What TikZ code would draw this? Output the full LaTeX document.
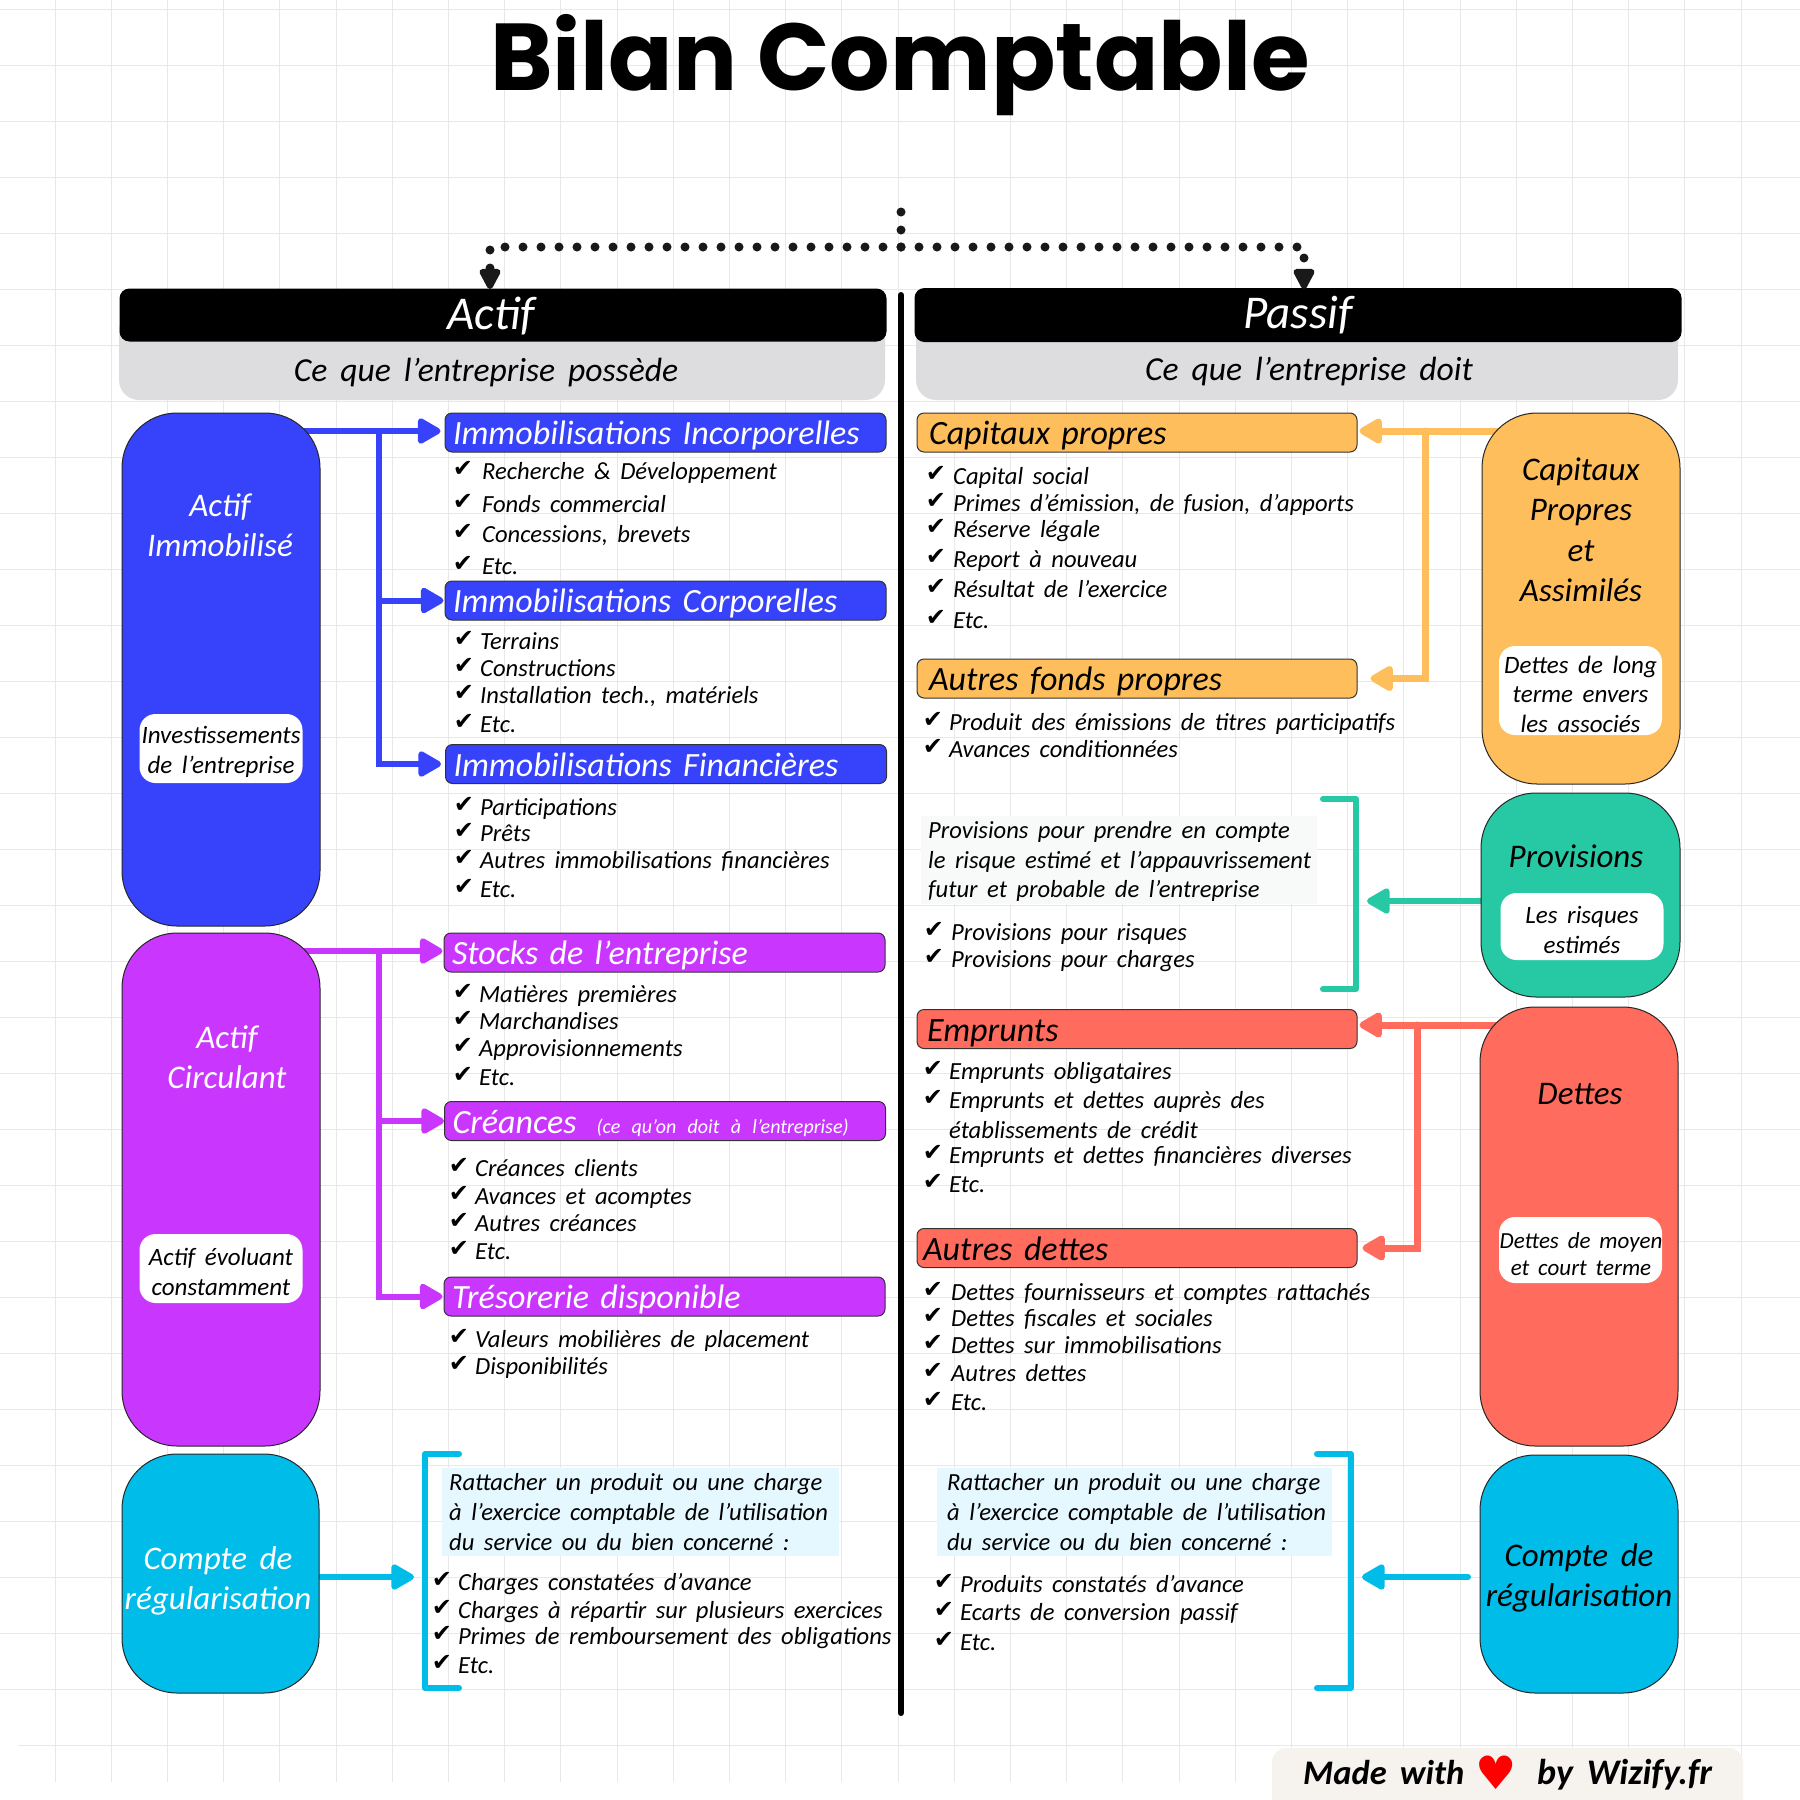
\documentclass[tikz,border=0pt]{standalone}
\usepackage{fontspec}
\setmainfont{Carlito}[WordSpace=1.7]
\newfontfamily\titlefont{Poppins}
\newfontfamily\symbfont{DejaVu Sans}
\usetikzlibrary{arrows.meta,backgrounds}
\definecolor{immoclr}{HTML}{3742FB}
\definecolor{circclr}{HTML}{C937FF}
\definecolor{regulclr}{HTML}{00BCE8}
\definecolor{capclr}{HTML}{FFBE5C}
\definecolor{provclr}{HTML}{26C9A4}
\definecolor{detteclr}{HTML}{FF6B5C}
\definecolor{greyclr}{HTML}{DDDDE0}
\definecolor{gridclr}{HTML}{E8E8E8}
\definecolor{footclr}{HTML}{F6F3EF}
\definecolor{paraclr}{HTML}{E6F8FF}
\definecolor{provparaclr}{HTML}{F8F9F9}

\begin{document}
\begin{tikzpicture}[
  x=1pt, y=-1pt,
  font=\itshape,
  headbox/.style={rectangle, rounded corners=10pt, fill=black, minimum width=767pt, minimum height=53pt, inner sep=0pt},
  subbox/.style={rectangle, rounded corners=20pt, fill=greyclr, minimum width=766pt, minimum height=90pt, inner sep=0pt},
  bigbox/.style={rectangle, rounded corners=55pt, draw=black!85, line width=1pt, inner sep=0pt},
  barbox/.style={rectangle, rounded corners=7pt, draw=black!80, line width=1pt, minimum height=39pt, inner ysep=0pt,
    text height=28pt, text depth=4pt, text width=425pt, inner xsep=8pt, align=left, font=\itshape\fontsize{34}{34}\selectfont},
  pill/.style={rectangle, rounded corners=16pt, fill=white, minimum width=163pt, inner sep=0pt},
  boxtxt/.style={align=center, inner sep=0pt, font=\itshape\fontsize{33}{40.5}\selectfont},
  pilltxt/.style={align=center, inner sep=0pt, font=\itshape\fontsize{25}{29.5}\selectfont},
  itemtxt/.style={anchor=base west, inner sep=0pt, yshift=-8pt, font=\itshape\fontsize{24.6}{24.6}\selectfont},
  chk/.style={inner sep=0pt, yshift=2pt, font=\symbfont\fontsize{24}{24}\selectfont},
  arrow/.style={-{Triangle[length=26pt,width=28pt,round]}, line width=6pt, line cap=round},
  bracket/.style={line width=6pt, line cap=round, line join=round},
  dotline/.style={-{Triangle[length=24pt,width=23pt,round]}, line width=9pt, dash pattern=on 0pt off 18pt, line cap=round, draw=black!90},
]
\useasboundingbox (0,0) rectangle (1800,1800);

% Title
\node[inner sep=0pt, font=\titlefont\bfseries\fontsize{95}{95}\selectfont] (title) at (900,65) {Bilan Comptable};

% Column headers
\node[subbox] (actifsub) at (502,355) {};
\node[subbox, minimum width=762pt] (passifsub) at (1297,355) {};
\node[headbox] (actifhead) at (503,315) {};
\node[headbox, minimum height=54pt] (passifhead) at (1298,315) {};
\node[inner sep=0pt, text=white, font=\itshape\fontsize{47}{47}\selectfont] (actiftxt) at (491,316) {Actif};
\node[inner sep=0pt, text=white, font=\itshape\fontsize{47}{47}\selectfont] (passiftxt) at (1298,315) {Passif};
\node[inner sep=0pt, font=\itshape\fontsize{33.6}{33.6}\selectfont] (actifsubtxt) at (486,373) {Ce que l'entreprise possède};
\node[inner sep=0pt, font=\itshape\fontsize{33.6}{33.6}\selectfont] (passifsubtxt) at (1309,372) {Ce que l'entreprise doit};

% Big boxes, left
\node[bigbox, fill=immoclr, minimum width=198pt, minimum height=513pt] (immobox) at (221,669.5) {};
\node[bigbox, fill=circclr, minimum width=198pt, minimum height=513pt] (circbox) at (221,1189.5) {};
\node[bigbox, fill=regulclr, minimum width=197pt, minimum height=239pt] (regullbox) at (220.5,1573.5) {};
% Big boxes, right
\node[bigbox, fill=capclr, minimum width=198pt, minimum height=371pt] (capbox) at (1581,598.5) {};
\node[bigbox, fill=provclr, minimum width=199pt, minimum height=204pt] (provbox) at (1580.5,895) {};
\node[bigbox, fill=detteclr, minimum width=198pt, minimum height=439pt] (dettebox) at (1579,1226.5) {};
\node[bigbox, fill=regulclr, minimum width=198pt, minimum height=238pt] (regulrbox) at (1579,1574) {};

% Big box labels
\node[boxtxt, text=white] (immotxt) at (220,525) {Actif\\Immobilisé};
\node[boxtxt, text=white] (circtxt) at (227,1057) {Actif\\Circulant};
\node[boxtxt, text=white] (regulltxt) at (218,1581) {Compte de\\régularisation};
\node[boxtxt] (captxt) at (1581,530) {Capitaux\\Propres\\et\\Assimilés};
\node[boxtxt] (provtxt) at (1576,856) {Provisions};
\node[boxtxt] (dettetxt) at (1580,1094) {Dettes};
\node[boxtxt] (regulrtxt) at (1579,1578) {Compte de\\régularisation};

% White pills
\node[pill, minimum height=69pt] (immopill) at (221,748.5) {};
\node[pill, minimum height=69pt] (circpill) at (221,1268.5) {};
\node[pill, minimum height=89pt] (cappill) at (1580.5,690.5) {};
\node[pill, minimum height=67pt] (provpill) at (1582,926.5) {};
\node[pill, minimum height=66pt] (dettepill) at (1580.5,1250) {};
\node[pilltxt] (immopilltxt) at (221,752) {Investissements\\de l'entreprise};
\node[pilltxt] (circpilltxt) at (221,1272) {Actif évoluant\\constamment};
\node[pilltxt] (cappilltxt) at (1580.5,694) {Dettes de long\\terme envers\\les associés};
\node[pilltxt] (provpilltxt) at (1582,930) {Les risques\\estimés};
\node[pilltxt, font=\itshape\fontsize{23}{27.5}\selectfont] (dettepilltxt) at (1581,1254) {Dettes de moyen\\et court terme};

% Bars, left
\node[barbox, fill=immoclr, text=white] (immoinc) at (665.5,432.5) {Immobilisations Incorporelles};
\node[barbox, fill=immoclr, text=white] (immocorp) at (665.5,600.5) {Immobilisations Corporelles};
\node[barbox, fill=immoclr, text=white] (immofin) at (666,764) {Immobilisations Financières};
\node[barbox, fill=circclr, text=white] (circstock) at (664.5,952.5) {Stocks de l'entreprise};
\node[barbox, fill=circclr, text=white] (circcre) at (665,1121) {Créances\hspace{20pt}{\fontsize{20}{20}\selectfont(ce qu'on doit à l'entreprise)}};
\node[barbox, fill=circclr, text=white] (circtres) at (664.5,1296.5) {Trésorerie disponible};
% Bars, right
\node[barbox, fill=capclr, inner xsep=12pt, text width=416pt] (capbar) at (1137,432.5) {Capitaux propres};
\node[barbox, fill=capclr, inner xsep=12pt, text width=416pt] (autbar) at (1137,678.5) {Autres fonds propres};
\node[barbox, fill=detteclr, inner xsep=10pt, text width=420pt] (empbar) at (1137,1029) {Emprunts};
\node[barbox, fill=detteclr, inner xsep=6pt, text width=428pt] (adbar) at (1137,1248) {Autres dettes};

% Highlighted paragraphs
\node[rectangle, fill=provparaclr, minimum width=396pt, minimum height=88pt, inner sep=0pt] (provpara) at (1119,860) {};
\node[rectangle, fill=paraclr, minimum width=397pt, minimum height=88pt, inner sep=0pt] (regullpara) at (640.5,1512) {};
\node[rectangle, fill=paraclr, minimum width=395pt, minimum height=88pt, inner sep=0pt] (regulrpara) at (1134.5,1512) {};
\foreach \y/\txt [count=\i] in {830/Provisions pour prendre en compte, 860/le risque estimé et l'appauvrissement, 889/futur et probable de l'entreprise}
  \node[itemtxt] (provp\i) at (928,\y) {\txt};
\foreach \y/\txt [count=\i] in {1482/Rattacher un produit ou une charge, 1512/à l'exercice comptable de l'utilisation, 1542/du service ou du bien concerné :} {
  \node[itemtxt] (regullp\i) at (449,\y) {\txt};
  \node[itemtxt] (regulrp\i) at (947,\y) {\txt};
}

% Lists, left
\foreach \y/\txt [count=\i] in {471/Recherche \& Développement, 504/Fonds commercial, 534/{Concessions, brevets}, 566/Etc.} {
  \node[chk] (incc\i) at (463,\y) {✔};
  \node[itemtxt] (inct\i) at (482,\y) {\txt};
}
\foreach \y/\txt [count=\i] in {641/Terrains, 668/Constructions, 695/{Installation tech., matériels}, 724/Etc.} {
  \node[chk] (corc\i) at (464,\y) {✔};
  \node[itemtxt] (cort\i) at (480,\y) {\txt};
}
\foreach \y/\txt [count=\i] in {807/Participations, 833/Prêts, 860/Autres immobilisations financières, 889/Etc.} {
  \node[chk] (finc\i) at (464,\y) {✔};
  \node[itemtxt] (fint\i) at (480,\y) {\txt};
}
\foreach \y/\txt [count=\i] in {994/Matières premières, 1021/Marchandises, 1048/Approvisionnements, 1077/Etc.} {
  \node[chk] (stoc\i) at (463,\y) {✔};
  \node[itemtxt] (stot\i) at (479,\y) {\txt};
}
\foreach \y/\txt [count=\i] in {1168/Créances clients, 1196/Avances et acomptes, 1223/Autres créances, 1251/Etc.} {
  \node[chk] (crec\i) at (459,\y) {✔};
  \node[itemtxt] (cret\i) at (475,\y) {\txt};
}
\foreach \y/\txt [count=\i] in {1339/Valeurs mobilières de placement, 1366/Disponibilités} {
  \node[chk] (trec\i) at (459,\y) {✔};
  \node[itemtxt] (tret\i) at (475,\y) {\txt};
}
\foreach \y/\txt [count=\i] in {1582/Charges constatées d'avance, 1610/Charges à répartir sur plusieurs exercices, 1636/Primes de remboursement des obligations, 1665/Etc.} {
  \node[chk] (rglc\i) at (442,\y) {✔};
  \node[itemtxt] (rglt\i) at (458,\y) {\txt};
}

% Lists, right
\foreach \y/\txt [count=\i] in {476/Capital social, 503/{Primes d'émission, de fusion, d'apports}, 529/Réserve légale, 559/Report à nouveau, 589/Résultat de l'exercice, 620/Etc.} {
  \node[chk] (capc\i) at (936,\y) {✔};
  \node[itemtxt] (capt\i) at (953,\y) {\txt};
}
\foreach \y/\txt [count=\i] in {722/Produit des émissions de titres participatifs, 749/Avances conditionnées} {
  \node[chk] (autc\i) at (933,\y) {✔};
  \node[itemtxt] (autt\i) at (949,\y) {\txt};
}
\foreach \y/\txt [count=\i] in {932/Provisions pour risques, 959/Provisions pour charges} {
  \node[chk] (proc\i) at (934,\y) {✔};
  \node[itemtxt] (prot\i) at (951,\y) {\txt};
}
\foreach \y/\txt [count=\i] in {1071/Emprunts obligataires, 1100/Emprunts et dettes auprès des, 1155/Emprunts et dettes financières diverses, 1184/Etc.} {
  \node[chk] (empc\i) at (933,\y) {✔};
  \node[itemtxt] (empt\i) at (949,\y) {\txt};
}
\node[itemtxt] (empt5) at (949,1130) {établissements de crédit};
\foreach \y/\txt [count=\i] in {1292/Dettes fournisseurs et comptes rattachés, 1318/Dettes fiscales et sociales, 1345/Dettes sur immobilisations, 1373/Autres dettes, 1402/Etc.} {
  \node[chk] (addc\i) at (933,\y) {✔};
  \node[itemtxt] (addt\i) at (951,\y) {\txt};
}
\foreach \y/\txt [count=\i] in {1584/Produits constatés d'avance, 1612/Ecarts de conversion passif, 1642/Etc.} {
  \node[chk] (rgrc\i) at (944,\y) {✔};
  \node[itemtxt] (rgrt\i) at (960,\y) {\txt};
}

% Footer
\node[rectangle, rounded corners=14pt, fill=footclr, minimum width=471pt, minimum height=80pt, inner sep=0pt] (footbox) at (1507.5,1788) {};
\node[inner sep=0pt, anchor=base west, font=\itshape\bfseries\fontsize{34.5}{34.5}\selectfont] (madetxt) at (1303,1784) {Made with};
\node[inner sep=0pt, text=red, font=\symbfont\fontsize{46}{46}\selectfont] (heart) at (1496,1773) {♥};
\node[inner sep=0pt, anchor=base west, font=\itshape\bfseries\fontsize{36}{36}\selectfont] (wiztxt) at (1537,1784) {by Wizify.fr};

% Free ends
\coordinate (dottop) at (901,212);
\coordinate (dotknee) at (901,247);
\coordinate (actiftip) at (490,289);
\coordinate (passiftip) at (1304,289);
\coordinate (midtop) at (901,295);
\coordinate (midbot) at (901,1713);
\coordinate (immotrunk) at (379,431);
\coordinate (circtrunk) at (379,951);
\coordinate (captrunk) at (1425,431);
\coordinate (dettetrunk) at (1417,1025);
\coordinate (provtip) at (1367,901);
\coordinate (regulltip) at (414,1577);
\coordinate (regulrtip) at (1362,1577);
\coordinate (regullout) at (321,1577);
\coordinate (regulrout) at (1468,1577);

\begin{scope}[on background layer]
  % Page and grid
  \fill[white] (0,0) rectangle (1800,1800);
  \foreach \k in {0,...,30}
    \draw[gridclr, line width=1pt] ({55+56.2*\k},0) -- ({55+56.2*\k},1782);
  \foreach \k in {0,...,30}
    \draw[gridclr, line width=1pt] (0,{9+56*\k}) -- (1800,{9+56*\k});
  \draw[gridclr, line width=1pt] (18,1745) -- (1800,1745);

  % Blue arrows
  \draw[arrow, immoclr, shorten >=4pt] (immobox.center |- immotrunk) -- (immoinc.west |- immotrunk);
  \draw[arrow, immoclr, shorten >=1pt] (immotrunk) |- (immocorp.west);
  \draw[arrow, immoclr, shorten >=4pt] (immotrunk) |- (immofin.west);
  % Purple arrows
  \draw[arrow, circclr, shorten >=1pt] (circbox.center |- circtrunk) -- (circstock.west |- circtrunk);
  \draw[arrow, circclr, shorten >=0pt] (circtrunk) |- (circcre.west);
  \draw[arrow, circclr, shorten >=1pt] (circtrunk) |- (circtres.west);
  % Orange arrows
  \draw[arrow, capclr, line width=7pt, shorten >=2pt] (capbox.center |- captrunk) -- (capbar.east |- captrunk);
  \draw[arrow, capclr, line width=7pt, shorten >=13pt] (captrunk) |- (autbar.east);
  % Red arrows
  \draw[arrow, detteclr, line width=7pt, shorten >=2pt] (dettebox.center |- dettetrunk) -- (empbar.east |- dettetrunk);
  \draw[arrow, detteclr, line width=7pt, shorten >=5pt] (dettetrunk) |- (adbar.east);
  % Single arrows
  \draw[arrow, provclr] (provbox.center |- provtip) -- (provtip);
  \draw[arrow, regulclr] (regullout) -- (regulltip);
  \draw[arrow, regulclr] (regulrout) -- (regulrtip);

  % Brackets
  \draw[bracket, provclr] (1323,799) -- (1356,799) -- (1356,989) -- (1323,989);
  \draw[bracket, regulclr] (459,1454) -- (425,1454) -- (425,1688) -- (459,1688);
  \draw[bracket, regulclr] (1317,1454) -- (1351,1454) -- (1351,1688) -- (1317,1688);
\end{scope}

% Centre line and dotted connector
\draw[line width=6pt, line cap=round] (midtop) -- (midbot);
\draw[line width=9pt, dash pattern=on 0pt off 18pt, line cap=round, draw=black!90] (dottop) -- (dotknee);
\draw[dotline] (dotknee) -| (actiftip);
\draw[dotline] (dotknee) -| (passiftip);

\end{tikzpicture}
\end{document}
